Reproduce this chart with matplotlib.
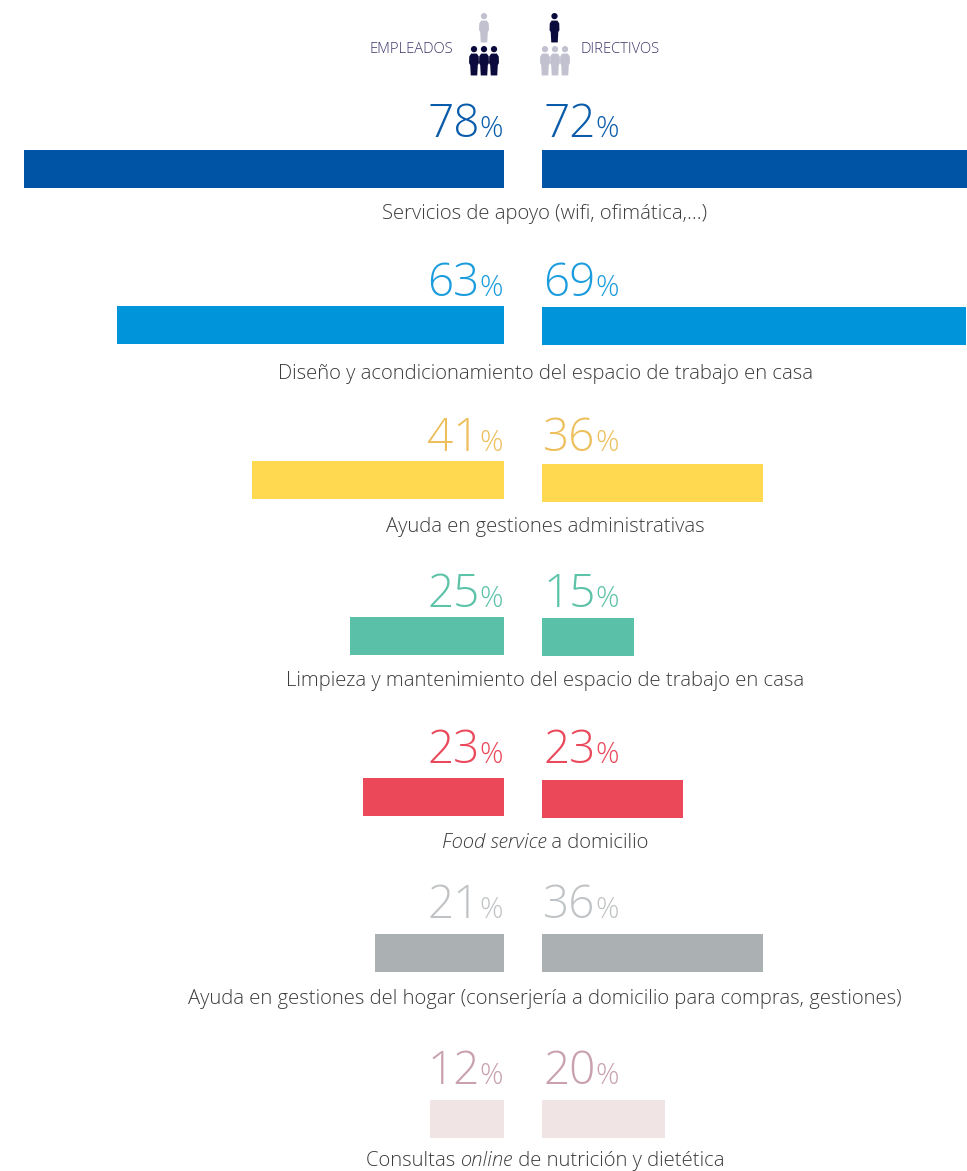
import matplotlib
matplotlib.use('Agg')
import matplotlib.pyplot as plt
from matplotlib.patches import Circle, Polygon

W, H = 967, 1171

categorias = [
    [('Servicios de apoyo (wifi, ofimática,...)', False)],
    [('Diseño y acondicionamiento del espacio de trabajo en casa', False)],
    [('Ayuda en gestiones administrativas', False)],
    [('Limpieza y mantenimiento del espacio de trabajo en casa', False)],
    [('Food service', True), (' a domicilio', False)],
    [('Ayuda en gestiones del hogar (conserjería a domicilio para compras, gestiones)', False)],
    [('Consultas ', False), ('online', True), (' de nutrición y dietética', False)],
]
empleados = [78, 63, 41, 25, 23, 21, 12]
directivos = [72, 69, 36, 15, 23, 36, 20]
color_barra = ['#0054a6', '#0095da', '#ffd94f', '#5bc0a8', '#eb4859', '#abb1b3', '#f0e5e4']
color_texto = ['#0a5cab', '#1b9cdd', '#edbf5c', '#5cc2a8', '#e9495b', '#c0c3c5', '#c9a1ae']

# posiciones verticales en pixeles
top_izq = [150, 306, 461, 617, 778, 934, 1100]
top_der = [150, 307, 464, 618, 780, 934, 1100]
base_num = [137, 296, 451, 607, 763, 918, 1084]
base_cat = [219, 379, 532, 686, 848, 1004, 1166]
ALTO = 38
ESCALA = 6.15  # pixeles por punto porcentual
X_IZQ, X_DER = 504, 542

fig = plt.figure(figsize=(W / 100, H / 100), dpi=100)
fuente = 'Open Sans'


def ejes_barras(x0, x1, xlim):
    a = fig.add_axes([x0 / W, 0, (x1 - x0) / W, 1])
    a.set_xlim(*xlim)
    a.set_ylim(H, 0)
    a.axis('off')
    return a


ax_izq = ejes_barras(0, X_IZQ, (X_IZQ / ESCALA, 0))
ax_der = ejes_barras(X_DER, W, (0, (W - X_DER) / ESCALA))
ax_izq.barh([t + ALTO / 2 for t in top_izq], empleados, height=ALTO, color=color_barra)
ax_der.barh([t + ALTO / 2 for t in top_der], directivos, height=ALTO, color=color_barra)

# capa en pixeles para textos e iconos
ax = fig.add_axes([0, 0, 1, 1])
ax.set_xlim(0, W)
ax.set_ylim(H, 0)
ax.axis('off')
ax.patch.set_alpha(0)
rend = fig.canvas.get_renderer()


def ancho(t):
    return t.get_window_extent(rend).width


def numero(x, y, valor, color, derecha):
    n = ax.text(x, y, str(valor), fontsize=33, family=fuente, fontweight='light',
                color=color, va='baseline', ha='left')
    p = ax.text(x, y, '%', fontsize=21, family=fuente, fontweight='light',
                color=color, va='baseline', ha='left')
    an = ancho(n)
    ap = ancho(p)
    if derecha:
        n.set_x(x - an - ap)
        p.set_x(x - ap)
    else:
        p.set_x(x + an)


def etiqueta(y, partes, centro=545):
    textos = [ax.text(0, y, s, fontsize=14.6, family=fuente, fontweight='light',
                      style='italic' if it else 'normal', color='#3c3c3c', va='baseline')
              for s, it in partes]
    # el ancho de los espacios finales no siempre cuenta, se mide con un caracter de apoyo
    anchos = []
    for t, (s, it) in zip(textos, partes):
        t.set_text(s.replace(' ', '\u00a0'))
        anchos.append(ancho(t))
    x = centro - sum(anchos) / 2
    for t, a in zip(textos, anchos):
        t.set_x(x)
        x += a


for i in range(len(empleados)):
    numero(503, base_num[i], empleados[i], color_texto[i], True)
    numero(543, base_num[i], directivos[i], color_texto[i], False)
    etiqueta(base_cat[i], categorias[i])


def persona(cx, y0, esc, color):
    # silueta: cabeza y cuerpo
    ax.add_patch(Circle((cx, y0 + 3.3 * esc), 3.3 * esc, color=color, lw=0))
    cuerpo = [(-3, 8), (3, 8), (5, 11), (5.2, 18), (4, 20), (3.4, 31), (-3.4, 31),
              (-4, 20), (-5.2, 18), (-5, 11)]
    ax.add_patch(Polygon([(cx + a * esc, y0 + b * esc) for a, b in cuerpo], closed=True,
                         color=color, lw=0))


OSCURO = '#0a0a3c'
CLARO = '#c1c1d0'
persona(484, 13, 0.95, CLARO)
persona(554.5, 13, 0.95, OSCURO)
for dx in (474, 484, 494):
    persona(dx, 46, 0.95, OSCURO)
for dx in (545, 555, 565):
    persona(dx, 46, 0.95, CLARO)

ax.text(453, 53, 'EMPLEADOS', fontsize=10.6, family=fuente, fontweight='light',
        color='#3c3768', ha='right', va='baseline')
ax.text(581, 53, 'DIRECTIVOS', fontsize=10.6, family=fuente, fontweight='light',
        color='#3c3768', ha='left', va='baseline')

fig.savefig('out.png', dpi=100, facecolor='white')
